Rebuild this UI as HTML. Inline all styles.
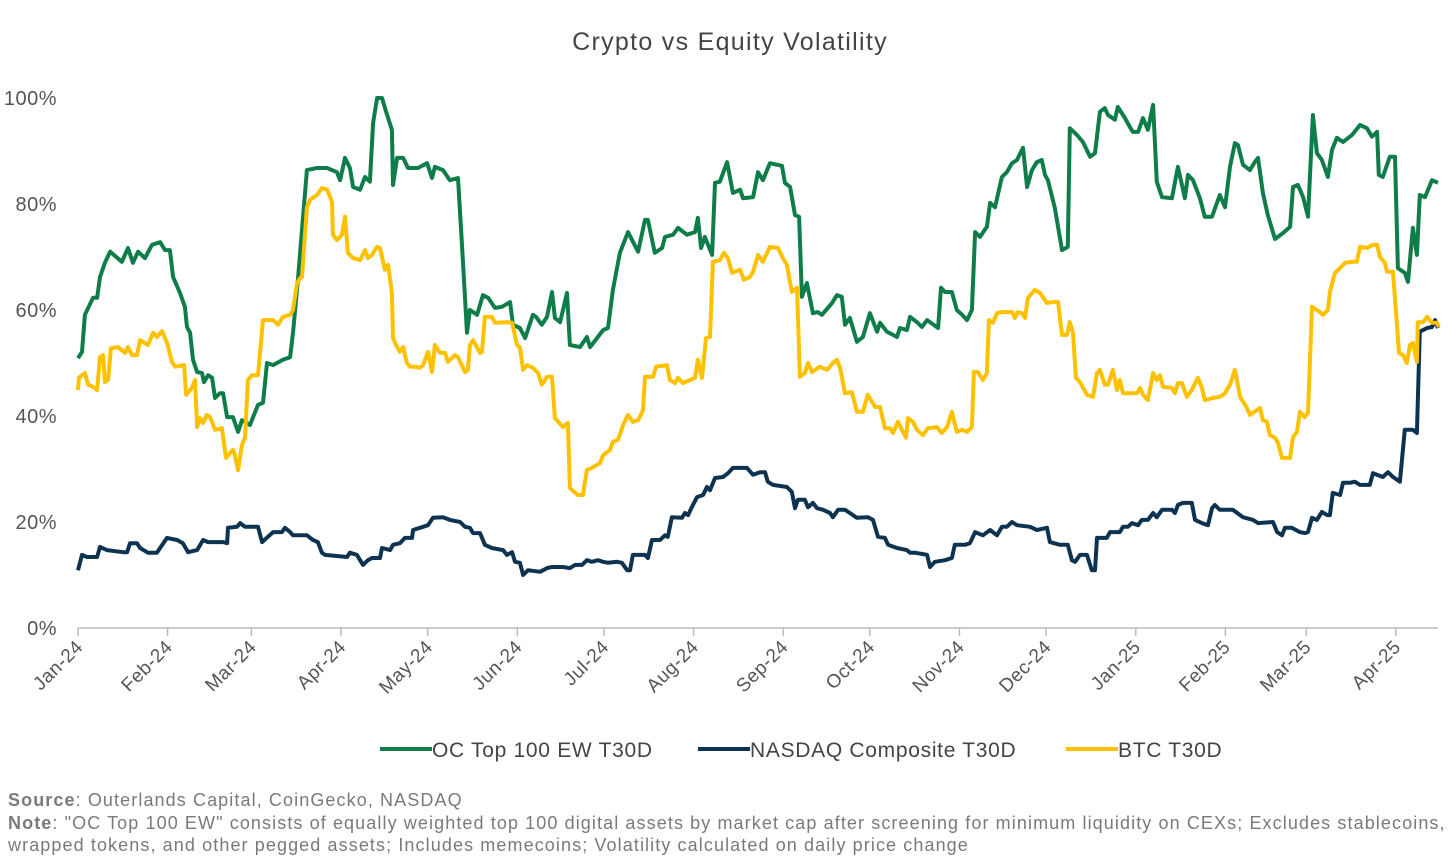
<!DOCTYPE html>
<html><head><meta charset="utf-8">
<style>
html,body{margin:0;padding:0;background:#fff;}
body{width:1456px;height:863px;overflow:hidden;font-family:"Liberation Sans",sans-serif;position:relative;}
.foot{position:absolute;left:8px;font-size:18px;color:#7a7a7a;line-height:22px;white-space:nowrap;letter-spacing:1.1px;}
</style></head>
<body>
<svg id="chart" width="1456" height="790" style="position:absolute;left:0;top:0">
  <text x="730" y="50" text-anchor="middle" font-size="25" letter-spacing="1.3" fill="#444">Crypto vs Equity Volatility</text>
  <g id="yaxis"></g><g id="xaxis"></g><g id="series"></g>
  <g>
    <line x1="380" y1="749" x2="432" y2="749" stroke="#0f7d4a" stroke-width="4"/>
    <text x="432" y="757" font-size="21" letter-spacing="0.7" fill="#444">OC Top 100 EW T30D</text>
    <line x1="698" y1="749" x2="750" y2="749" stroke="#0d3350" stroke-width="4"/>
    <text x="750" y="757" font-size="21" letter-spacing="0.7" fill="#444">NASDAQ Composite T30D</text>
    <line x1="1066" y1="749" x2="1118" y2="749" stroke="#fdc100" stroke-width="4"/>
    <text x="1118" y="757" font-size="21" letter-spacing="0.7" fill="#444">BTC T30D</text>
  </g>
</svg>
<div class="foot" style="top:789px"><b>Source</b>: Outerlands Capital, CoinGecko, NASDAQ</div>
<div class="foot" style="top:812px"><b>Note</b>: "OC Top 100 EW" consists of equally weighted top 100 digital assets by market cap after screening for minimum liquidity on CEXs; Excludes stablecoins,<br>wrapped tokens, and other pegged assets; Includes memecoins; Volatility calculated on daily price change</div>
<script>
const monthLabels=["Jan-24","Feb-24","Mar-24","Apr-24","May-24","Jun-24","Jul-24","Aug-24","Sep-24","Oct-24","Nov-24","Dec-24","Jan-25","Feb-25","Mar-25","Apr-25"];
const monthDays=[0,31,60,91,121,152,182,213,244,274,305,335,366,397,425,456];
const yTicks=[0,20,40,60,80,100];
const ocDays=[0,1.4,2.4,5.2,6.6,7.6,9.3,11.1,15.2,17.3,19.0,20.8,23.2,25.6,28.4,30.1,31.8,32.9,35.3,37.0,37.7,38.8,39.8,41.2,42.9,43.6,45.0,46.4,47.4,49.1,50.2,51.6,53.6,55.4,56.7,59.5,60.6,62.3,64.0,65.4,67.5,70.9,73.4,74.4,76.1,79.2,82.7,86.2,89.6,90.7,92.4,94.1,95.2,97.6,99.3,101.0,102.1,103.5,105.2,106.6,108.6,109.0,110.4,112.5,114.2,117.6,120.8,122.5,123.5,126.3,128.7,131.5,132.9,134.6,135.6,138.1,140.1,141.9,144.3,146.7,149.5,150.5,152.9,154.7,157.4,158.5,160.5,162.3,164.0,165.0,166.8,169.2,170.2,173.7,176.1,177.2,179.6,181.7,183.4,185.1,187.5,190.3,193.8,196.2,197.2,199.6,202.1,203.1,205.9,207.6,210.7,213.5,214.5,215.6,216.9,219.4,220.4,222.1,224.6,226.6,229.1,230.1,233.6,235.3,237.0,239.4,243.6,244.6,246.4,248.1,249.5,250.5,252.2,254.3,256.0,257.4,260.9,262.6,264.3,265.4,267.1,269.5,271.6,274.0,276.5,277.5,279.9,283.4,284.4,286.8,287.9,290.3,292.0,293.8,297.6,298.6,300.0,302.4,304.1,305.9,307.6,309.3,310.4,312.1,314.5,315.6,317.3,319.7,321.4,323.2,324.9,327.0,328.4,330.1,331.8,333.5,334.6,335.6,338.0,340.5,342.5,343.2,345.7,347.7,350.2,351.9,353.6,355.3,356.4,358.8,359.8,362.3,364.0,365.0,366.8,368.5,370.2,372.0,373.3,375.1,378.5,380.6,383.0,384.1,385.8,388.2,389.9,392.4,395.1,396.9,398.6,400.3,401.4,403.1,405.5,407.2,408.3,410.0,411.7,414.2,416.9,419.4,420.4,422.1,423.9,425.6,427.3,428.7,430.4,432.5,433.9,435.6,437.7,440.8,443.6,446.0,447.7,449.5,450.1,451.5,453.9,455.7,456.7,459.1,460.2,461.9,463.3,464.3,466.1,468.5,470.6];
const ocValues=[50.9,52.1,59.1,62.3,62.3,66.2,68.9,71.0,69.1,71.7,68.9,71.0,69.8,72.3,72.8,71.3,71.3,66.2,63.2,60.6,56.8,55.7,50.6,48.3,48.1,46.4,47.7,47.2,43.4,44.3,44.3,39.8,39.8,37.0,39.2,38.3,39.8,42.1,42.5,50.0,49.6,50.6,51.1,55.7,65.7,86.4,86.8,86.8,86.0,84.5,88.7,86.8,83.2,82.7,85.1,84.2,95.3,100,100,97.4,94.0,83.6,88.7,88.7,86.8,86.8,87.7,84.9,87.0,86.4,84.5,84.9,71.9,55.7,60.0,59.1,62.8,62.3,60.4,60.6,61.5,57.2,56.6,54.7,59.1,58.7,57.2,58.7,63.4,58.5,57.7,63.2,53.4,53.0,54.9,53.0,54.7,56.2,56.6,63.8,70.8,74.7,71.0,77.0,77.0,70.8,71.7,73.8,74.2,75.5,74.2,74.7,77.4,71.7,73.8,70.4,84.0,84.2,87.9,82.1,82.7,81.1,81.3,86.0,84.5,87.7,87.2,84.0,83.2,77.9,77.6,62.5,65.1,59.4,59.6,59.1,61.3,62.8,62.5,57.2,58.5,54.0,54.9,59.4,55.9,57.6,55.9,54.9,56.6,56.2,58.7,57.7,56.8,58.1,56.6,64.2,63.4,63.4,60.0,59.1,58.1,60.0,74.7,73.8,75.7,80.2,79.4,85.1,86.0,87.7,88.3,90.6,83.2,86.4,87.9,88.3,85.5,84.5,79.3,71.3,71.9,94.3,93.0,91.7,88.9,89.6,97.4,98.1,96.8,95.9,98.3,96.2,94.5,93.6,93.6,96.2,94.0,98.7,84.2,81.3,81.1,87.0,81.1,85.5,84.5,81.1,77.6,77.6,81.7,79.4,87.0,91.5,91.1,87.4,86.4,87.9,88.7,82.1,77.9,73.4,74.5,75.7,83.2,83.6,81.3,77.6,96.8,89.6,88.3,85.1,90.2,92.5,91.7,93.0,94.9,94.3,92.7,93.6,85.5,85.1,88.9,88.9,67.9,67.0,65.3,75.5,70.4,81.7,81.3,84.5,84.0];
const ndqDays=[0,1.4,3.1,6.6,7.6,10.0,15.6,17.0,18.0,20.4,21.5,24.2,27.3,28.4,30.8,34.3,36.3,38.1,41.2,43.3,45.0,50.2,51.6,51.9,55.0,56.1,57.8,62.3,63.7,65.7,67.5,70.6,71.6,73.4,74.4,79.2,81.3,83.0,84.4,85.5,93.1,94.1,96.5,98.6,100.3,101.7,104.5,105.2,108.0,109.0,111.4,113.1,115.6,115.9,119.4,121.1,122.8,126.3,128.7,132.2,133.9,135.6,136.7,139.1,140.8,143.2,147.1,148.4,150.2,151.2,152.9,154.0,155.7,159.9,162.3,164.0,167.8,170.2,172.0,174.4,176.1,177.8,179.9,181.7,183.4,186.5,188.2,190.0,191.0,192.0,196.2,197.2,198.6,201.4,203.1,204.1,205.5,209.0,210.0,211.1,212.4,214.2,216.3,217.6,218.7,220.4,223.2,224.9,226.6,231.5,233.6,236.0,237.7,238.7,240.5,245.3,247.0,248.1,249.1,251.5,252.6,254.3,255.7,257.8,260.2,261.2,263.0,265.4,267.1,269.5,273.3,275.1,276.8,279.2,280.3,283.4,286.8,287.9,289.6,293.8,294.8,296.5,300.0,302.4,303.4,306.9,308.6,310.4,313.1,315.6,318.0,319.7,321.4,323.2,324.9,329.4,331.8,335.3,336.3,339.8,342.5,343.9,345.0,346.7,349.1,350.8,351.9,352.6,356.0,357.1,360.5,361.6,363.3,364.7,366.8,368.1,370.2,372.0,373.3,375.1,378.5,379.6,380.6,382.3,385.4,386.5,388.9,391.0,392.4,393.4,395.1,399.6,403.1,406.6,408.3,413.5,414.9,416.6,417.6,420.0,422.8,424.5,425.6,427.0,428.7,430.4,432.2,433.2,434.2,436.7,437.7,440.1,441.8,443.6,447.0,448.1,451.5,453.3,455.0,457.4,459.1,461.9,463.3,464.3,466.8,468.5,469.6,470.6];
const ndqValues=[10.9,13.8,13.4,13.4,15.3,14.7,14.3,14.3,16.0,16.0,15.1,14.2,14.2,15.1,17.0,16.6,16.0,14.3,14.7,16.6,16.2,16.2,16.0,18.9,19.1,19.8,19.1,19.1,16.2,17.2,18.1,18.1,18.9,18.1,17.5,17.5,16.6,16.2,14.2,13.8,13.4,14.2,13.8,11.9,12.8,13.2,13.2,15.1,14.7,15.7,16.0,17.0,17.0,18.5,19.1,19.4,20.8,20.9,20.4,20.0,19.1,18.9,17.9,17.9,15.7,15.1,14.7,13.8,14.3,12.5,12.3,10.0,10.9,10.6,11.3,11.5,11.5,11.3,11.9,11.9,12.8,12.5,12.8,12.5,12.3,12.5,12.3,10.9,10.9,13.8,13.8,13.2,16.6,16.6,17.5,17.2,20.9,20.8,21.7,21.3,22.8,24.7,25.1,26.6,26.0,28.3,28.5,29.2,30.2,30.2,28.9,29.4,29.4,27.6,27.0,26.6,25.7,22.6,24.2,24.2,22.8,23.6,22.6,22.3,21.7,20.9,22.3,22.3,21.7,20.8,20.9,20.4,17.2,17.0,15.7,15.1,14.7,14.2,14.2,13.8,11.5,12.5,12.8,13.2,15.7,15.7,16.0,18.1,17.5,18.5,17.5,19.1,19.1,20.0,19.4,19.1,18.5,18.9,16.2,15.7,15.7,12.8,12.5,13.8,13.8,10.9,10.9,17.0,17.0,18.1,18.1,19.1,19.1,19.8,19.4,20.4,20.4,21.7,20.9,22.3,22.3,21.7,23.2,23.6,23.6,20.4,19.8,19.4,22.6,23.2,22.3,22.3,20.9,20.4,19.8,20.0,18.1,17.5,18.9,18.9,18.1,17.9,18.1,20.8,20.4,21.9,21.3,21.3,25.5,25.1,27.4,27.4,27.6,27.0,27.0,29.2,28.5,29.4,28.5,27.6,37.4,37.4,36.8,55.9,56.6,56.8,58.1,56.6];
const btcDays=[0,0.3,2.4,3.5,5.2,6.6,7.6,8.7,9.3,10.4,11.4,13.8,16.3,17.3,18.7,20.4,21.5,24.2,26.0,27.3,29.1,30.8,32.5,33.6,36.7,37.4,39.4,40.5,41.2,42.2,43.3,44.6,45.7,47.4,49.8,51.2,52.6,53.6,54.3,55.4,56.7,57.8,58.8,60.2,62.3,64.0,67.5,69.2,70.9,73.4,74.4,75.8,76.8,77.5,79.2,80.3,82.7,84.4,86.2,87.9,88.2,89.6,91.3,92.4,93.4,95.2,97.6,99.3,100.3,101.7,103.5,104.5,106.2,107.3,108.6,109.0,110.4,111.4,112.5,113.8,114.9,116.6,118.3,119.4,121.1,122.5,123.5,125.3,127.0,128.0,130.4,131.5,133.9,134.9,135.6,136.7,139.1,139.8,140.8,143.2,144.3,148.4,150.2,151.9,152.9,154.0,155.4,157.4,159.2,160.5,162.3,164.0,165.0,167.8,169.5,170.2,173.0,174.7,176.1,177.8,180.6,181.7,184.1,185.1,186.8,188.6,190.3,192.0,193.8,195.5,196.2,199.0,200.0,203.8,204.8,206.6,207.6,209.3,211.8,213.5,214.5,215.9,217.3,218.7,219.7,222.1,223.5,224.9,226.3,229.1,230.4,232.5,233.6,235.3,237.0,239.4,242.2,243.9,245.3,247.0,248.8,249.8,251.5,252.6,254.0,256.7,259.2,261.2,262.6,263.7,265.4,267.8,269.5,271.6,273.3,275.8,277.5,279.2,281.0,282.0,283.7,285.1,286.5,287.2,288.9,290.3,292.4,294.1,297.2,298.9,300.7,302.4,304.1,305.9,307.6,309.3,310.0,311.4,313.1,314.5,315.2,316.6,318.0,319.7,323.2,324.2,325.2,326.6,327.7,328.7,331.1,332.9,335.3,337.0,339.1,340.5,342.2,343.2,344.3,345.3,346.7,349.1,351.2,352.6,353.6,355.3,356.4,358.1,359.5,360.5,361.6,366.4,367.5,368.5,370.2,372.0,373.3,374.4,375.4,378.5,379.6,380.6,382.0,383.7,385.4,387.5,388.9,389.9,392.7,395.1,396.9,398.6,400.3,402.1,404.5,405.5,407.9,409.0,410.0,411.4,412.4,414.2,415.2,416.6,419.4,420.4,421.8,422.8,424.5,425.6,427.0,429.7,430.8,432.5,433.2,434.9,436.7,438.4,440.8,442.5,443.6,446.0,448.1,449.5,450.5,452.2,452.9,455.0,457.1,458.5,459.8,460.9,461.9,463.3,463.6,465.4,466.8,468.5,470.2,470.9];
const btcValues=[44.9,47.2,48.1,45.9,45.5,44.9,51.1,51.5,46.4,46.8,52.8,53.0,51.9,53.0,51.5,51.5,54.3,53.4,55.7,54.9,56.0,53.8,50.2,49.3,49.6,44.0,45.3,46.8,37.9,39.6,38.7,40.2,39.8,37.4,37.7,32.1,33.0,33.6,32.6,29.8,34.5,35.9,46.8,47.7,47.7,58.1,58.1,57.2,58.7,59.1,60.0,65.1,66.0,66.2,79.4,80.8,81.7,83.0,82.7,80.4,74.2,73.2,74.2,77.6,70.8,69.8,69.4,71.3,69.8,70.4,71.9,71.7,67.6,68.5,63.2,54.7,53.0,52.1,53.0,50.0,49.3,49.3,49.1,49.6,52.1,48.3,53.4,51.9,51.9,50.2,51.5,51.1,48.3,48.7,53.4,54.3,51.9,52.1,58.7,58.7,57.6,57.7,57.6,53.4,53.0,48.7,49.6,49.1,48.1,45.9,47.4,47.4,39.6,37.9,38.7,26.4,25.1,25.1,29.8,30.2,31.1,32.6,33.6,35.1,35.5,38.3,40.2,38.9,39.2,41.1,47.4,47.4,49.3,49.6,46.8,46.2,47.2,46.2,46.8,47.2,50.6,47.2,54.7,54.9,69.1,69.4,70.8,69.8,67.0,67.6,65.7,66.2,67.2,70.4,69.1,71.9,71.7,69.8,68.5,63.4,64.2,47.4,48.1,50.0,48.3,49.3,48.7,50.0,50.6,49.1,44.3,44.5,40.8,40.8,44.0,41.7,41.7,37.7,37.7,36.8,38.9,37.4,35.9,39.6,38.9,37.4,36.4,37.7,37.9,36.8,37.9,40.8,37.0,37.4,37.0,37.9,48.3,48.3,46.8,48.1,58.1,57.6,59.4,59.6,59.6,58.5,59.6,59.4,58.5,62.3,63.8,63.2,61.3,61.5,61.5,55.3,55.3,57.7,55.7,47.2,46.4,44.0,43.6,48.1,48.7,45.9,45.9,48.7,44.9,46.8,44.3,44.3,45.3,44.0,43.0,48.1,46.8,47.7,45.5,45.3,44.3,46.2,46.2,43.6,44.9,47.2,45.3,43.0,43.4,43.6,44.3,45.9,48.7,43.6,41.5,40.2,41.1,41.5,39.2,38.9,36.4,35.9,34.9,32.1,32.1,36.0,37.0,40.8,39.8,40.6,60.6,59.6,59.1,60.0,63.4,67.0,67.9,68.9,69.1,69.1,71.9,71.7,72.3,72.3,70.0,68.9,67.2,67.2,51.9,51.5,50.0,53.4,53.8,50.2,57.7,57.7,58.7,57.6,57.6,56.8];

const NS="http://www.w3.org/2000/svg";
const X0=78,PXDAY=2.89,Y0=628,PXPCT=5.3,XEND=1438;
function xScale(d){return X0+d*PXDAY;}
function yScale(v){return Y0-v*PXPCT;}
function mk(tag,attrs,parent){const e=document.createElementNS(NS,tag);for(const k in attrs)e.setAttribute(k,attrs[k]);parent.appendChild(e);return e;}

const yg=document.getElementById('yaxis');
yTicks.forEach(function(t){
  const tx=mk('text',{x:57,y:yScale(t)+7,'text-anchor':'end','font-size':20,'letter-spacing':0.5,fill:'#555'},yg);
  tx.textContent=t+'%';
  
  
});
const xg=document.getElementById('xaxis');
const ax=mk('line',{x1:X0,y1:Y0,x2:XEND,y2:Y0,stroke:'#bbb','stroke-width':1.5},xg);


monthDays.forEach(function(d,i){
  const x=xScale(d);
  const tk=mk('line',{x1:x,y1:Y0,x2:x,y2:Y0+8,stroke:'#bbb','stroke-width':1.5},xg);
  
  
  const lb=mk('text',{x:x+6,y:Y0+20,'text-anchor':'end','font-size':19,'letter-spacing':0.5,fill:'#555',transform:'rotate(-45 '+(x+6)+' '+(Y0+20)+')'},xg);
  lb.textContent=monthLabels[i];
  
  
});
const sg=document.getElementById('series');
function drawLine(days,vals,color,name){
  let d='';
  for(let i=0;i<days.length;i++){d+=(i?'L':'M')+xScale(days[i]).toFixed(1)+' '+yScale(vals[i]).toFixed(1);}
  const p=mk('path',{d:d,fill:'none',stroke:color,'stroke-width':4,'stroke-linejoin':'round'},sg);
  
  
}
drawLine(ocDays,ocValues,'#0f7d4a','oc-top100-line');
drawLine(ndqDays,ndqValues,'#0d3350','nasdaq-line');
drawLine(btcDays,btcValues,'#fdc100','btc-line');
</script>
</body></html>
